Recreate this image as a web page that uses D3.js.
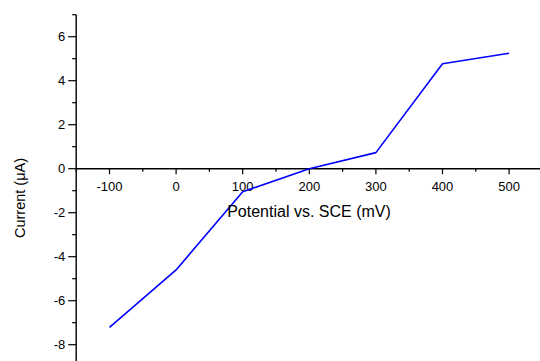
<!DOCTYPE html>
<html><head><meta charset="utf-8">
<script src="https://cdn.jsdelivr.net/npm/d3@7"></script>
<style>body{margin:0;background:#fff}svg{display:block}text{font-family:"Liberation Sans",Arial,sans-serif;fill:#000}</style>
</head><body>
<svg id="c" width="540" height="361"></svg>
<script>
const potentials = [-100, 0, 100, 200, 300, 400, 500];
const currents = [-7.21, -4.60, -1.05, 0.0, 0.73, 4.77, 5.25];
const xMajorTicks = [-100, 0, 100, 200, 300, 400, 500];
const xMinorTicks = [-150, -50, 50, 150, 250, 350, 450, 550];
const yMajorTicks = [6, 4, 2, -2, -4, -6, -8];
const yMinorTicks = [7, 5, 3, 1, -1, -3, -5, -7, -9];
const xTitle = "Potential vs. SCE (mV)";
const yTitle = "Current (\u03BCA)";

const svg = d3.select("#c");
const x = d3.scaleLinear().domain([-150, 550]).range([76.2, 542.4]);
const y = d3.scaleLinear().domain([-9, 7]).range([366.7, 14.7]);
const x0 = x(-150), y0 = y(0);

// x axis line at y=0
const gx = svg.append("g").attr("transform", `translate(0,${y0})`);
gx.append("line").attr("x1", x0).attr("x2", 542).attr("y1", 0).attr("y2", 0)
  .attr("stroke", "#000").attr("stroke-width", 1.4);
gx.selectAll(".xM").data(xMajorTicks).join("line")
  .attr("x1", d => x(d)).attr("x2", d => x(d)).attr("y1", 0).attr("y2", 5.5)
  .attr("stroke", "#000").attr("stroke-width", 1.2);
gx.selectAll(".xm").data(xMinorTicks).join("line")
  .attr("x1", d => x(d)).attr("x2", d => x(d)).attr("y1", 0).attr("y2", 3)
  .attr("stroke", "#000").attr("stroke-width", 1.2);
gx.selectAll(".xl").data(xMajorTicks).join("text")
  .attr("x", d => x(d)).attr("y", 22.8).attr("text-anchor", "middle")
  .attr("font-size", 13).text(d => d);

// y axis line
const gy = svg.append("g").attr("transform", `translate(${x0},0)`);
gy.append("line").attr("x1", 0).attr("x2", 0).attr("y1", y(7)).attr("y2", 361)
  .attr("stroke", "#000").attr("stroke-width", 1.4);
gy.selectAll(".yM").data(yMajorTicks.concat([0])).join("line")
  .attr("x1", -8).attr("x2", 0).attr("y1", d => y(d)).attr("y2", d => y(d))
  .attr("stroke", "#000").attr("stroke-width", 1.2);
gy.selectAll(".ym").data(yMinorTicks).join("line")
  .attr("x1", -4).attr("x2", 0).attr("y1", d => y(d)).attr("y2", d => y(d))
  .attr("stroke", "#000").attr("stroke-width", 1.2);
gy.selectAll(".yl").data(yMajorTicks.concat([0])).join("text")
  .attr("x", -11).attr("y", d => y(d) + 4.6).attr("text-anchor", "end")
  .attr("font-size", 13).text(d => d);

// line
svg.append("path")
  .datum(potentials.map((p, i) => [p, currents[i]]))
  .attr("fill", "none").attr("stroke", "#0000ff").attr("stroke-width", 1.6)
  .attr("stroke-linejoin", "round")
  .attr("d", d3.line().x(d => x(d[0])).y(d => y(d[1])));

// titles
svg.append("text").attr("x", 309).attr("y", 217.3).attr("text-anchor", "middle")
  .attr("font-size", 16).text(xTitle);
svg.append("text").attr("transform", "translate(25,198) rotate(-90)")
  .attr("text-anchor", "middle").attr("font-size", 14.5).text(yTitle);
</script>
</body></html>
